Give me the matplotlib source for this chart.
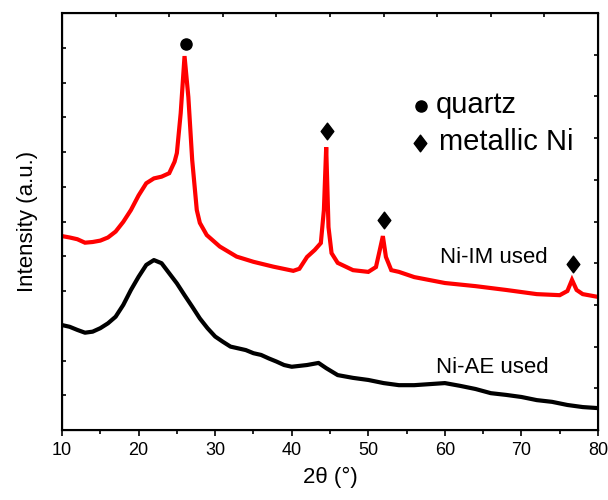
import numpy as np
import matplotlib.pyplot as plt
from matplotlib.path import Path

plt.rcParams['font.family'] = ['Liberation Sans', 'DejaVu Sans']

# Ni-IM used (red)
im_2theta = [10, 11, 12, 13, 14, 15, 16, 17, 18, 19, 20, 21, 22, 23, 24, 24.7, 25, 25.5, 26, 26.5,
             27, 27.6, 28, 28.9, 30.6, 32.8, 35, 37.6, 40.2, 41, 42, 43, 43.8, 44.2, 44.5, 44.8, 45.2, 46, 48, 50,
             51, 51.5, 51.9, 52.3, 53, 54, 56, 60, 64, 68, 72, 75, 76, 76.6, 77.2, 78, 80]
im_int = [5.58, 5.54, 5.49, 5.39, 5.41, 5.45, 5.54, 5.71, 5.99, 6.33, 6.75, 7.10, 7.24, 7.29, 7.39, 7.72, 7.97, 9.12, 10.76, 9.58,
          7.77, 6.33, 5.96, 5.61, 5.28, 4.99, 4.84, 4.70, 4.58, 4.64, 4.98, 5.18, 5.38, 6.33, 8.14, 5.84, 5.09, 4.81, 4.60, 4.55,
          4.69, 5.18, 5.58, 4.98, 4.60, 4.55, 4.40, 4.23, 4.14, 4.03, 3.91, 3.88, 4.00, 4.32, 4.03, 3.91, 3.83]

# Ni-AE used (black)
ae_2theta = [10, 11, 12, 13, 14, 15, 16, 17, 18, 19, 20, 21, 22, 23, 24, 25, 26, 27, 28, 29,
             30, 31, 32, 33, 34, 35, 36, 37, 38, 39, 40, 42, 43.5, 44.5, 46, 48, 50, 52, 54, 56,
             58, 60, 62, 64, 66, 68, 70, 72, 74, 76, 78, 80]
ae_int = [3.02, 2.97, 2.88, 2.80, 2.83, 2.93, 3.07, 3.26, 3.60, 4.03, 4.41, 4.75, 4.89, 4.80, 4.51, 4.22, 3.88, 3.55, 3.21, 2.93,
          2.69, 2.54, 2.40, 2.35, 2.30, 2.21, 2.16, 2.06, 1.97, 1.87, 1.82, 1.87, 1.93, 1.78, 1.58, 1.50, 1.44, 1.35, 1.29, 1.29,
          1.32, 1.35, 1.27, 1.18, 1.06, 1.01, 0.95, 0.86, 0.81, 0.72, 0.66, 0.63]

quartz_peaks = [26.0]
ni_peaks = [44.5, 51.9, 76.6]

diamond = Path([(-0.38, 0), (0, 0.5), (0.38, 0), (0, -0.5), (-0.38, 0)],
               [Path.MOVETO, Path.LINETO, Path.LINETO, Path.LINETO, Path.CLOSEPOLY])

fig = plt.figure(figsize=(6.08, 5.0), dpi=100)
ax = fig.add_axes([0.102, 0.14, 0.8816, 0.834])

ax.plot(im_2theta, im_int, color='red', lw=3.0, solid_joinstyle='miter')
ax.plot(ae_2theta, ae_int, color='black', lw=3.0)

# peak markers above each peak
im_x = np.array(im_2theta)
im_y = np.array(im_int)
for p in quartz_peaks:
    top = im_y[np.abs(im_x - p) < 0.6].max()
    ax.plot(p + 0.2, top + 0.35, 'o', color='black', ms=8)
for p in ni_peaks:
    top = im_y[np.abs(im_x - p) < 0.6].max()
    ax.plot(p + 0.1, top + 0.45, marker=diamond, color='black', ms=12, ls='none')

# legend written by hand like the original
ax.plot(56.85, 9.32, 'o', color='black', ms=8)
ax.text(58.75, 9.35, 'quartz', fontsize=21, va='center', ha='left')
ax.plot(56.75, 8.26, marker=diamond, color='black', ms=12, ls='none')
ax.text(59.2, 8.29, 'metallic Ni', fontsize=21, va='center', ha='left')

ax.text(59.4, 4.95, 'Ni-IM used', fontsize=16, va='center', ha='left')
ax.text(58.9, 1.81, 'Ni-AE used', fontsize=16, va='center', ha='left')

ax.set_xlim(10, 80)
ax.set_ylim(0, 12)
ax.set_xticks(range(10, 81, 10))
ax.set_xticks(range(15, 80, 10), minor=True)
ax.set_yticks(range(0, 13))
ax.set_yticklabels([])
ax.tick_params(axis='x', which='major', direction='out', length=4.5, width=1.2, labelsize=13, pad=4)
ax.tick_params(axis='x', which='minor', direction='out', length=3, width=1.2)
ax.tick_params(axis='y', direction='in', length=3, width=1.2)
ax.set_xlabel('2θ (°)', fontsize=16, labelpad=6)
ax.set_ylabel('Intensity (a.u.)', fontsize=16, labelpad=14)
for s in ax.spines.values():
    s.set_linewidth(1.5)

# top and right axes have their own tick spacing
top = ax.twiny()
top.set_xlim(0, 10)
top.set_xticks(range(0, 11))
top.set_xticklabels([])
top.tick_params(axis='x', direction='in', length=3, width=1.2)
right = ax.twinx()
right.set_ylim(0, 10)
right.set_yticks(range(0, 11))
right.set_yticklabels([])
right.tick_params(axis='y', direction='in', length=3, width=1.2)

fig.savefig('out.png', dpi=100)
